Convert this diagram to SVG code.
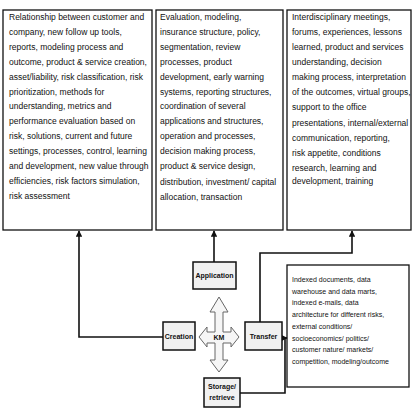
<svg xmlns="http://www.w3.org/2000/svg" width="413" height="408" viewBox="0 0 413 408">
<defs>
<style>
.box{fill:#fff;stroke:#111;stroke-width:1.3}
.node{fill:#f1f1f1;stroke:#111;stroke-width:1.5}
.t{font-family:"Liberation Sans",Arial,sans-serif;font-size:8.5px;fill:#111}
.t4{font-family:"Liberation Sans",Arial,sans-serif;font-size:7px;fill:#111}
.lbl{font-family:"Liberation Sans",Arial,sans-serif;font-size:7px;font-weight:bold;fill:#111;text-anchor:middle}
.con{fill:none;stroke:#111;stroke-width:1.6}
</style>
<marker id="ah" viewBox="0 0 10 10" refX="9" refY="5" markerWidth="4" markerHeight="4" orient="auto">
<path d="M0,0 L10,5 L0,10 z" fill="#111"/>
</marker>
</defs>
<rect width="413" height="408" fill="#fff"/>

<g id="box-methods">
<rect class="box" x="3" y="10" width="149" height="220"/>
<text class="t" x="9">
<tspan x="9" y="20">Relationship between customer and</tspan>
<tspan x="9" y="34.9">company, new follow up tools,</tspan>
<tspan x="9" y="49.8">reports, modeling process and</tspan>
<tspan x="9" y="64.7">outcome, product &amp; service creation,</tspan>
<tspan x="9" y="79.6">asset/liability, risk classification, risk</tspan>
<tspan x="9" y="94.5">prioritization, methods for</tspan>
<tspan x="9" y="109.4">understanding, metrics and</tspan>
<tspan x="9" y="124.3">performance evaluation based on</tspan>
<tspan x="9" y="139.2">risk, solutions, current and future</tspan>
<tspan x="9" y="154.1">settings, processes, control, learning</tspan>
<tspan x="9" y="169">and development, new value through</tspan>
<tspan x="9" y="183.9">efficiencies, risk factors simulation,</tspan>
<tspan x="9" y="198.8">risk assessment</tspan>
</text>
</g>

<g id="box-applications">
<rect class="box" x="156" y="10" width="127" height="220"/>
<text class="t">
<tspan x="160" y="20">Evaluation, modeling,</tspan>
<tspan x="160" y="34.9">insurance structure, policy,</tspan>
<tspan x="160" y="49.8">segmentation, review</tspan>
<tspan x="160" y="64.7">processes, product</tspan>
<tspan x="160" y="79.6">development, early warning</tspan>
<tspan x="160" y="94.5">systems, reporting structures,</tspan>
<tspan x="160" y="109.4">coordination of several</tspan>
<tspan x="160" y="124.3">applications and structures,</tspan>
<tspan x="160" y="139.2">operation and processes,</tspan>
<tspan x="160" y="154.1">decision making process,</tspan>
<tspan x="160" y="169">product &amp; service design,</tspan>
<tspan x="160" y="185">distribution, investment/ capital</tspan>
<tspan x="160" y="199.5">allocation, transaction</tspan>
</text>
</g>

<g id="box-transfer">
<rect class="box" x="287" y="10" width="124" height="220"/>
<text class="t">
<tspan x="292" y="20">Interdisciplinary meetings,</tspan>
<tspan x="292" y="35">forums, experiences, lessons</tspan>
<tspan x="292" y="50">learned, product and services</tspan>
<tspan x="292" y="65">understanding, decision</tspan>
<tspan x="292" y="80">making process, interpretation</tspan>
<tspan x="292" y="95">of the outcomes, virtual groups,</tspan>
<tspan x="292" y="110">support to the office</tspan>
<tspan x="292" y="125.5">presentations, internal/external</tspan>
<tspan x="292" y="140.5">communication, reporting,</tspan>
<tspan x="292" y="156">risk appetite, conditions</tspan>
<tspan x="292" y="170.5">research, learning and</tspan>
<tspan x="292" y="184">development, training</tspan>
</text>
</g>

<g id="box-storage">
<rect class="box" x="287" y="265" width="122" height="122"/>
<text class="t4">
<tspan x="292" y="282">Indexed documents, data</tspan>
<tspan x="292" y="293.7">warehouse and data marts,</tspan>
<tspan x="292" y="305.4">indexed e-mails, data</tspan>
<tspan x="292" y="317.1">architecture for different risks,</tspan>
<tspan x="292" y="328.8">external conditions/</tspan>
<tspan x="292" y="340.5">socioeconomics/ politics/</tspan>
<tspan x="292" y="352.2">customer nature/ markets/</tspan>
<tspan x="292" y="363.9">competition, modeling/outcome</tspan>
</text>
</g>

<g id="connectors">
<polyline class="con" points="163,337 79,337 79,231" marker-end="url(#ah)"/>
<polyline class="con" points="214,262 214,231" marker-end="url(#ah)"/>
<polyline class="con" points="260,322 260,253 352,253 352,231" marker-end="url(#ah)"/>
<polyline class="con" points="240,393 285,393 285,338 287,338" marker-end="url(#ah)"/>
</g>

<g id="km">
<polygon points="219,297 228,312 223,312 223,332 231,332 231,327 239,337 231,347 231,343 223,343 223,360 228,360 219,372 210,360 215,360 215,343 207,343 207,347 199,337 207,327 207,332 215,332 215,312 210,312" fill="#f6f6f6" stroke="#666" stroke-width="1"/>
<text class="lbl" x="219" y="339.5">KM</text>
</g>

<g id="node-application">
<rect class="node" x="193" y="262" width="43" height="27"/>
<text class="lbl" x="214.5" y="278">Application</text>
</g>

<g id="node-creation">
<rect class="node" x="163" y="322" width="32" height="28"/>
<text class="lbl" x="179" y="339">Creation</text>
</g>

<g id="node-transfer">
<rect class="node" x="245" y="322" width="37" height="28"/>
<text class="lbl" x="263.5" y="339">Transfer</text>
</g>

<g id="node-storage">
<rect class="node" x="204" y="378" width="36" height="29"/>
<text class="lbl"><tspan x="222" y="389">Storage/</tspan><tspan x="222" y="400">retrieve</tspan></text>
</g>
</svg>
